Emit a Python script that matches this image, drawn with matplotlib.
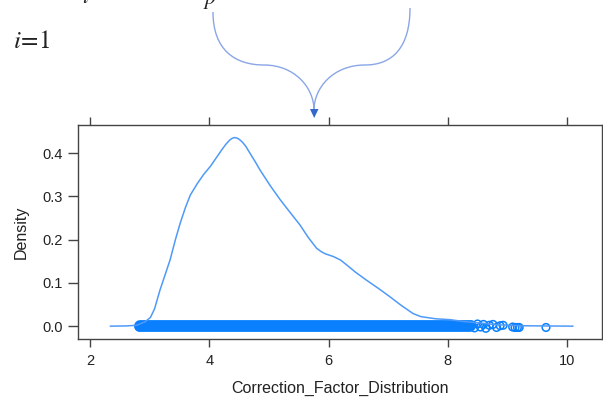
import numpy as np
import matplotlib
matplotlib.use("Agg")
import matplotlib.pyplot as plt
from matplotlib.path import Path
from matplotlib.patches import PathPatch, Polygon

plt.rcParams['font.family'] = ['Liberation Sans', 'DejaVu Sans']
plt.rcParams['mathtext.fontset'] = 'stix'

# density curve
dens_x = [2.34, 2.6, 2.78, 2.92, 3.01, 3.08, 3.17, 3.26, 3.34, 3.43, 3.51, 3.6, 3.68,
          3.79, 3.90, 4.02, 4.13, 4.21, 4.28, 4.34, 4.38, 4.42, 4.46, 4.5, 4.55,
          4.61, 4.68, 4.77, 4.85, 5.02, 5.19, 5.36, 5.52, 5.66, 5.80, 5.88,
          5.95, 6.08, 6.2, 6.31, 6.45, 6.64, 6.84, 7.03, 7.22, 7.42, 7.55, 7.65,
          7.8, 8.04, 8.25, 8.49, 8.7, 8.88, 9.2, 9.6, 10.10]
dens_y = [0.0, 0.0005, 0.002, 0.01, 0.02, 0.04, 0.083, 0.12, 0.153, 0.2, 0.238, 0.275, 0.303,
          0.328, 0.35, 0.37, 0.392, 0.408, 0.421, 0.43, 0.434, 0.436, 0.435, 0.432, 0.426,
          0.416, 0.40, 0.38, 0.361, 0.325, 0.292, 0.262, 0.234, 0.205, 0.18, 0.172,
          0.167, 0.161, 0.153, 0.141, 0.125, 0.106, 0.087, 0.068, 0.048, 0.029, 0.022, 0.02,
          0.017, 0.015, 0.011, 0.008, 0.005, 0.003, 0.001, 0.0005, 0.0]

# rug: dense band plus the sparse tail points
band_lo, band_hi = 2.84, 8.38
tail_x = [2.82, 8.4, 8.45, 8.5, 8.55, 8.6, 8.64, 8.7, 8.76, 8.82, 8.88, 8.93,
          9.09, 9.13, 9.17, 9.2, 9.65]
tail_y = [-0.002, 0.003, -0.004, 0.005, -0.002, 0.004, -0.005, 0.002, 0.004, -0.003, 0.001, 0.002,
          -0.002, -0.003, -0.003, -0.003, -0.003]

xticks = [2, 4, 6, 8, 10]
yticks = [0.0, 0.1, 0.2, 0.3, 0.4]

blue = '#0a80ff'
W, H = 603, 398
fig = plt.figure(figsize=(W / 100, H / 100), dpi=100)
ax = fig.add_axes([78.3 / W, 1 - 338.7 / H, (602 - 78.3) / W, (338.7 - 125) / H])

ax.plot(dens_x, dens_y, color='#4f9af8', lw=1.1, zorder=3)
ax.plot([band_lo, band_hi], [0, 0], color=blue, lw=8.5, solid_capstyle='round', zorder=2)
ax.scatter(tail_x, tail_y, s=30, facecolors='none', edgecolors=blue, linewidths=1.1, zorder=2)

ax.set_xlim(1.80, 10.59)
ax.set_ylim(-0.029, 0.465)
ax.set_xticks(xticks)
ax.set_yticks(yticks)
ax.set_xticklabels([str(t) for t in xticks])
ax.set_yticklabels(['%.1f' % t for t in yticks])
ax.tick_params(axis='x', which='both', direction='out', length=6, width=1, color='#444',
               top=True, labeltop=False, labelsize=10.5, pad=5, labelcolor='#222')
ax.tick_params(axis='y', direction='out', length=7, width=1, color='#444',
               labelsize=10.5, pad=4, labelcolor='#222')
for s in ax.spines.values():
    s.set_color('#444')
    s.set_linewidth(1)
ax.set_xlabel('Correction_Factor_Distribution', fontsize=11.5, color='#222', labelpad=9)
ax.set_ylabel('Density', fontsize=11.5, color='#222', labelpad=10)

# overlay in pixel coordinates for the decoration above the panel
ov = fig.add_axes([0, 0, 1, 1], zorder=5)
ov.set_xlim(0, W)
ov.set_ylim(H, 0)
ov.axis('off')
ov.patch.set_alpha(0)

verts = [(213, 12), (213, 50), (235, 65), (264, 65),
         (295, 65), (314, 88), (314, 110),
         (314, 88), (333, 65), (365, 65),
         (392, 65), (410, 48), (410, 8)]
codes = [Path.MOVETO] + [Path.CURVE4] * 12
ov.add_patch(PathPatch(Path(verts, codes), fill=False, edgecolor='#8aa6e6', lw=1))
ov.add_patch(Polygon([(310, 109), (318.5, 109), (314.2, 118)], closed=True,
                     color='#3468cc', lw=0))

ov.text(13, 48, r'$i\!=\!1$', fontsize=18, color='#222', va='baseline')
ov.text(82, 3, r'$t$', fontsize=16, color='#222', va='baseline')
ov.text(203, 4, r'$p$', fontsize=16, color='#222', va='baseline')

fig.savefig('out.png', dpi=100)
